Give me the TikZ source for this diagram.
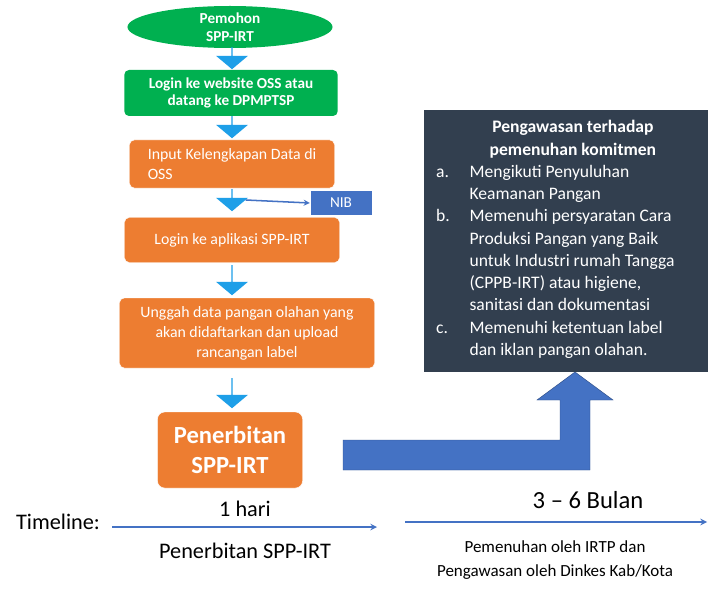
\documentclass[tikz,border=0pt]{standalone}
\usepackage{fontspec}
\setmainfont{Carlito}
\usetikzlibrary{shapes.geometric,shapes.arrows,positioning}
\definecolor{okgreen}{HTML}{00B050}
\definecolor{okorange}{HTML}{ED7D31}
\definecolor{okblue}{HTML}{4472C4}
\definecolor{okcyan}{HTML}{1E9FE8}
\definecolor{okdark}{HTML}{323F4F}
\tikzset{
  stepgreen/.style={fill=okgreen, rounded corners=4pt, text=white, font=\bfseries\fontsize{13}{15}\selectfont, align=center, inner sep=0pt},
  steporange/.style={fill=okorange, draw=white, rounded corners=4pt, text=white, font=\fontsize{13.5}{17}\selectfont, align=center, inner sep=0pt},
  downarrow/.style={single arrow, fill=okcyan, shape border rotate=270, minimum width=0.95cm, single arrow head extend=0.2cm, single arrow tip angle=100, minimum height=0.66cm, inner sep=0pt},
}
\begin{document}
\begin{tikzpicture}[x=0.03cm,y=-0.03cm]
  \useasboundingbox[fill=white] (0,0) rectangle (713,596);
  % flow
  \node[ellipse, fill=okgreen, text=white, font=\bfseries\fontsize{13}{15}\selectfont, align=center, minimum width=6.15cm, minimum height=1.26cm, inner sep=0pt] (pemohon) at (230,27) {Pemohon\\SPP-IRT};
  \node[stepgreen, minimum width=6.4cm, minimum height=1.38cm] (login) at (231,93) {Login ke website OSS atau\\datang ke DPMPTSP};
  \node[steporange, minimum width=6.15cm, minimum height=1.44cm, align=left] (input) at (232,164) {Input Kelengkapan Data di\\OSS\hspace*{3.2cm}};
  \node[fill=okblue, draw=white, text=white, font=\fontsize{13}{15}\selectfont, minimum width=1.86cm, minimum height=0.75cm, inner sep=0pt] (nib) at (341,203) {NIB};
  \node[steporange, minimum width=6.45cm, minimum height=1.35cm] (aplikasi) at (232,240) {Login ke aplikasi SPP-IRT};
  \node[steporange, minimum width=7.65cm, minimum height=2.1cm] (unggah) at (247,333) {Unggah data pangan olahan yang\\akan didaftarkan dan upload\\rancangan label};
  \node[steporange, rounded corners=6pt, font=\bfseries\fontsize{21}{25}\selectfont, minimum width=4.35cm, minimum height=2.28cm] (terbit) at (230,450) {Penerbitan\\SPP-IRT};
  \node[downarrow] (a1) at (232,58) {};
  \node[downarrow] (a2) at (232,127) {};
  \node[downarrow] (a3) at (232,200) {};
  \node[downarrow, minimum height=0.9cm] (a4) at (232,280) {};
  \node[downarrow, minimum height=0.9cm] (a5) at (232,393) {};
  \draw[okblue, line width=1.3pt, -stealth] (a3.east) -- (nib.west);
  % bent arrow
  \fill[okblue, draw=okblue!70!black] (343,440) -- (560,440) -- (560,400) -- (537,400) -- (575,372) -- (613,400) -- (590,400) -- (590,470) -- (343,470) -- cycle;
  % monitoring box
  \node[fill=okdark, text=white, minimum width=8.5cm, minimum height=7.86cm, inner sep=0pt] (awas) at (566,241) {};
  \node[text=white, font=\fontsize{15}{19}\selectfont, anchor=north west, inner sep=0pt, align=left] (awastext) at (436,117) {%
    \begin{tabular}{@{}p{1cm}@{}p{7.2cm}@{}}
    \multicolumn{2}{@{}c@{}}{\bfseries Pengawasan terhadap}\\
    \multicolumn{2}{@{}c@{}}{\bfseries pemenuhan komitmen}\\
    a. & Mengikuti Penyuluhan\newline Keamanan Pangan\\
    b. & Memenuhi persyaratan Cara\newline Produksi Pangan yang Baik\newline untuk Industri rumah Tangga\newline (CPPB-IRT) atau higiene,\newline sanitasi dan dokumentasi\\
    c. & Memenuhi ketentuan label\newline dan iklan pangan olahan.
    \end{tabular}};
  % timeline
  \node[font=\fontsize{19}{22}\selectfont] (tl) at (58,522) {Timeline:};
  \coordinate (t1s) at (112,527);
  \coordinate (t1e) at (377,527);
  \coordinate (t2s) at (405,522);
  \coordinate (t2e) at (707,522);
  \draw[okblue, line width=1.5pt, -stealth] (t1s) -- (t1e);
  \draw[okblue, line width=1.5pt, -stealth] (t2s) -- (t2e);
  \node[font=\fontsize{19}{22}\selectfont] (hari) at (245,509) {1 hari};
  \node[font=\fontsize{19}{22}\selectfont] (terbitlbl) at (245,551) {Penerbitan SPP-IRT};
  \node[font=\fontsize{21}{24}\selectfont] (bulan) at (588,500) {3 -- 6 Bulan};
  \node[font=\fontsize{14.5}{20}\selectfont, align=center] (penuh) at (555,560) {Pemenuhan oleh IRTP dan\\Pengawasan oleh Dinkes Kab/Kota};
\end{tikzpicture}
\end{document}
